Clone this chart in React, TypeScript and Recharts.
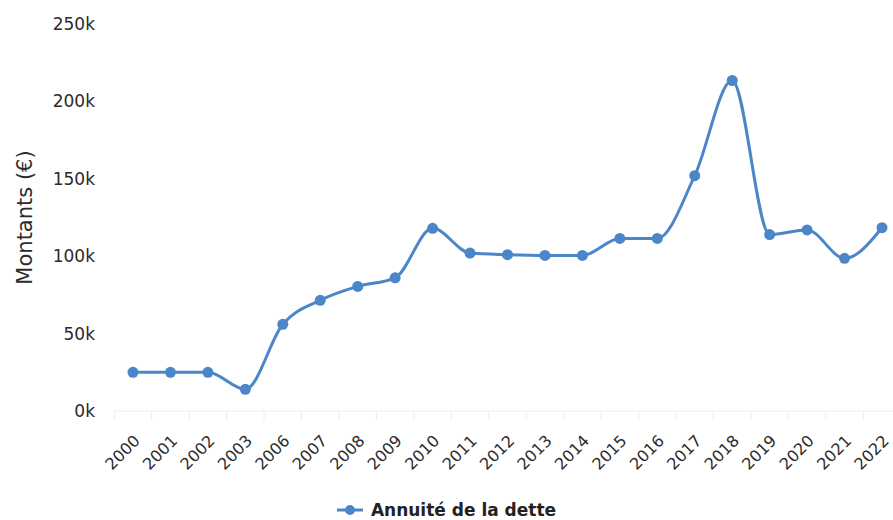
import { LineChart, Line, XAxis, YAxis, Legend } from "recharts";

const years = [
	"2000", "2001", "2002", "2003", "2006", "2007", "2008", "2009", "2010", "2011", "2012",
	"2013", "2014", "2015", "2016", "2017", "2018", "2019", "2020", "2021", "2022",
];
const annuite = [
	25000, 25000, 25000, 14000, 56000, 71500, 80500, 86000, 118000, 102000, 101000,
	100500, 100500, 111500, 111500, 152000, 213500, 114000, 117000, 98600, 118400,
];
const yTicks = [0, 50000, 100000, 150000, 200000, 250000];
const seriesName = "Annuité de la dette";

const data = years.map((year, i) => ({ year, [seriesName]: annuite[i] }));

const W = 893;
const H = 520;
const Y_AXIS_W = 114;
const PAD_L = 19;
const PAD_R = 11;
const STEP = (W - Y_AXIS_W - PAD_L - PAD_R) / (years.length - 1);
const BLUE = "#4a86c8";
const FONT = "'DejaVu Sans', sans-serif";

const YearTick = ({ x, y, payload }: any) => (
	<g>
		<line x1={x - STEP / 2} x2={x - STEP / 2} y1={y} y2={y + 9} stroke="#ececec" />
		<text
			transform={`translate(${x + 4},${y + 27}) rotate(-45)`}
			textAnchor="end"
			dominantBaseline="central"
			fontSize={16}
			fill="#2b2b2b"
			fontFamily={FONT}
		>
			{payload.value}
		</text>
	</g>
);

const LegendContent = () => (
	<div
		style={{
			height: 20,
			display: "flex",
			justifyContent: "center",
			alignItems: "center",
			fontFamily: FONT,
			fontWeight: 700,
			fontSize: 17,
			color: "#222",
		}}
	>
		<svg width={26} height={12} style={{ marginRight: 8 }}>
			<line x1={0} x2={26} y1={6} y2={6} stroke={BLUE} strokeWidth={3} />
			<circle cx={13} cy={6} r={5} fill={BLUE} />
		</svg>
		{seriesName}
	</div>
);

export default function App() {
	return (
		<div style={{ position: "absolute", left: 0, top: 0, background: "#fff" }}>
			<LineChart
				width={W}
				height={H}
				data={data}
				margin={{ top: 24, right: 0, left: 0, bottom: 0 }}
			>
				<XAxis
					dataKey="year"
					interval={0}
					height={89}
					padding={{ left: PAD_L, right: PAD_R }}
					axisLine={{ stroke: "#ececec" }}
					tickLine={false}
					tickSize={0}
					tickMargin={0}
					tick={<YearTick />}
				/>
				<YAxis
					width={Y_AXIS_W}
					domain={[0, 250000]}
					ticks={yTicks}
					tickFormatter={(v: number) => `${v / 1000}k`}
					axisLine={false}
					tickLine={false}
					tickMargin={13}
					tick={{ fill: "#2b2b2b", fontSize: 17, fontFamily: FONT }}
					label={{
						value: "Montants (€)",
						angle: -90,
						position: "insideLeft",
						offset: 25,
						style: { textAnchor: "middle", fontSize: 21, fill: "#2b2b2b", fontFamily: FONT },
					}}
				/>
				<Legend verticalAlign="bottom" content={<LegendContent />} />
				<Line
					type="monotone"
					dataKey={seriesName}
					stroke={BLUE}
					strokeWidth={3}
					dot={{ r: 5.5, fill: BLUE, stroke: BLUE, strokeWidth: 0 }}
					activeDot={false}
					isAnimationActive={false}
				/>
			</LineChart>
		</div>
	);
}
